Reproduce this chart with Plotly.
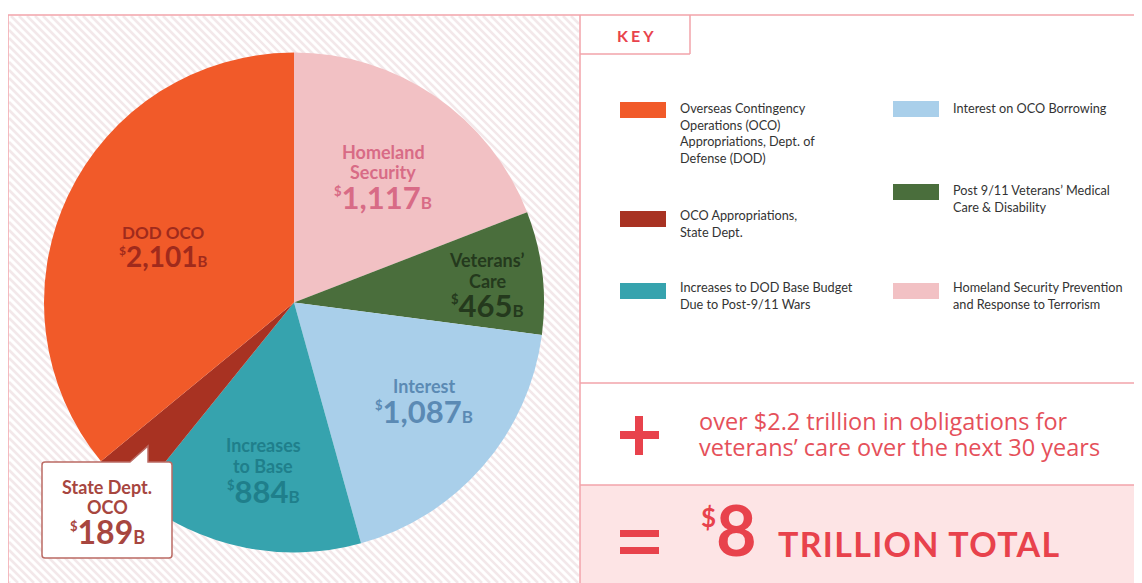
import plotly.graph_objects as go

# figure sits at an 8px page offset inside the 1142x583 window
OFF = 8
W, H = 1142 - OFF, 583 - OFF

# ---------------- data ----------------
categories = ["Homeland Security", "Veterans' Care", "Interest", "Increases to Base",
              "State Dept. OCO", "DOD OCO"]
values = [1117, 465, 1087, 884, 189, 2101]
slice_colors = ["#f2c1c4", "#4a6e3c", "#a9cfea", "#36a3ae", "#a83222", "#f15a29"]

label_names = [["Homeland", "Security"], ["Veterans’", "Care"], ["Interest"],
               ["Increases", "to Base"], ["State Dept.", "OCO"], ["DOD OCO"]]
label_colors = ["#d86b86", "#24391d", "#5b8ab4", "#1f7f8b", "#a7463f", "#a02a1c"]

key_left_idx = [5, 4, 3]
key_right_idx = [2, 1, 0]
key_texts = {
    5: ["Overseas Contingency", "Operations (OCO)", "Appropriations, Dept. of", "Defense (DOD)"],
    4: ["OCO Appropriations,", "State Dept."],
    3: ["Increases to DOD Base Budget", "Due to Post-9/11 Wars"],
    2: ["Interest on OCO Borrowing"],
    1: ["Post 9/11 Veterans’ Medical", "Care & Disability"],
    0: ["Homeland Security Prevention", "and Response to Terrorism"],
}
extra_lines = ["over $2.2 trillion in obligations for", "veterans’ care over the next 30 years"]
total_value = "8"
total_word = "TRILLION TOTAL"

# ---------------- helpers (window pixel -> paper) ----------------
def px(x):
    return (x - OFF) / W

def py(y):
    return 1 - (y - OFF) / H

RED = "#e8424c"
BORDER = "#f2a3aa"
FONT = "Lato"

# pie geometry (window pixels)
CX, CY, R = 294, 302.5, 250

fig = go.Figure()
fig.add_trace(go.Pie(
    labels=categories, values=values, sort=False, direction="clockwise", rotation=0,
    marker=dict(colors=slice_colors, line=dict(width=0)),
    textinfo="none", hoverinfo="label+value", showlegend=False,
    domain=dict(x=[px(CX - R), px(CX + R)], y=[py(CY + R), py(CY - R)]),
))

shapes = []

# diagonal stripes of the left panel
x0, x1, y0, y1 = 9, 579, 16, 583
step = 8
segs = []
c = y0 - x1
while c < y1 - x0:
    xa = max(x0, y0 - c)
    xb = min(x1, y1 - c)
    if xb > xa:
        segs.append(f"M{px(xa):.5f},{py(xa + c):.5f}L{px(xb):.5f},{py(xb + c):.5f}")
    c += step
shapes.append(dict(type="path", path="".join(segs), xref="paper", yref="paper",
                   line=dict(color="#f3e8ea", width=2.6), layer="below"))

# bottom pink band
shapes.append(dict(type="rect", xref="paper", yref="paper", x0=px(580), x1=px(1142),
                   y0=py(583), y1=py(485), fillcolor="#fde4e5", line=dict(width=0), layer="below"))

def hline(y, xa, xb, w=1.5):
    shapes.append(dict(type="line", xref="paper", yref="paper", x0=px(xa), x1=px(xb),
                       y0=py(y), y1=py(y), line=dict(color=BORDER, width=w), layer="below"))

def vline(x, ya, yb, w=1.5):
    shapes.append(dict(type="line", xref="paper", yref="paper", x0=px(x), x1=px(x),
                       y0=py(ya), y1=py(yb), line=dict(color=BORDER, width=w), layer="below"))

hline(15, 8, 1142)
vline(8, 15, 583)
vline(580, 15, 583)
hline(383, 580, 1142)
hline(485, 580, 1142)
# KEY box
vline(690, 15, 54)
hline(54, 580, 690)

# key swatches
def swatch(xl, yc, color):
    shapes.append(dict(type="rect", xref="paper", yref="paper", x0=px(xl), x1=px(xl + 46),
                       y0=py(yc + 8), y1=py(yc - 8), fillcolor=color, line=dict(width=0)))

left_swatch_y = [110, 219, 291]
right_swatch_y = [109, 192, 291]
for i, yc in zip(key_left_idx, left_swatch_y):
    swatch(620, yc, slice_colors[i])
for i, yc in zip(key_right_idx, right_swatch_y):
    swatch(893, yc, slice_colors[i])

# plus and equals symbols
def bar(xa, xb, ya, yb):
    shapes.append(dict(type="rect", xref="paper", yref="paper", x0=px(xa), x1=px(xb),
                       y0=py(yb), y1=py(ya), fillcolor=RED, line=dict(width=0)))

bar(620, 659, 431, 439)
bar(635, 643, 416, 455)
bar(620, 659, 530, 537)
bar(620, 659, 547, 554)

# State Dept callout box
pts = [(45, 462), (130, 462), (148, 446), (148, 462), (169, 462), ("Q", 172, 462, 172, 465),
       (172, 555), ("Q", 172, 558, 169, 558), (45, 558), ("Q", 42, 558, 42, 555),
       (42, 465), ("Q", 42, 462, 45, 462)]
path = ""
for k, p in enumerate(pts):
    if p[0] == "Q":
        path += f"Q{px(p[1]):.5f},{py(p[2]):.5f} {px(p[3]):.5f},{py(p[4]):.5f}"
    else:
        path += ("M" if k == 0 else "L") + f"{px(p[0]):.5f},{py(p[1]):.5f}"
path += "Z"
shapes.append(dict(type="path", path=path, xref="paper", yref="paper",
                   fillcolor="white", line=dict(color="#bb6a63", width=1.5)))

# ---------------- annotations ----------------
anns = []

def ann(x, y, text, size, color, weight=700, xanchor="center", yanchor="middle",
        family=FONT, align="center"):
    anns.append(dict(x=px(x), y=py(y), xref="paper", yref="paper", text=text, showarrow=False,
                     xanchor=xanchor, yanchor=yanchor, align=align,
                     font=dict(family=family, size=size, color=color, weight=weight)))

def money(v, size):
    return (f"<sup><span style='font-size:{round(size*0.42)}px'>$</span></sup>{v:,}"
            f"<span style='font-size:{round(size*0.55)}px'>B</span>")

# pie labels: (x, first-line y, line gap, value y, name size, value size)
label_pos = [
    (383, 152, 20, 197, 18, 31),
    (487, 260, 21, 305, 18, 31),
    (424, 386, 0, 411, 18, 31),
    (263, 445, 21, 491, 18, 31),
    (107, 487, 20, 531, 18, 32),
    (163, 233, 0, 256, 17, 28),
]
for i, (lx, ly, gap, vy, ns, vs) in enumerate(label_pos):
    for j, line in enumerate(label_names[i]):
        ann(lx, ly + j * gap, line, ns, label_colors[i])
    ann(lx, vy, money(values[i], vs), vs, label_colors[i])

# KEY title
ann(637, 35, "<span style='letter-spacing:3px'>KEY</span>", 16, RED)

# key texts (one left-aligned block each)
def key_block(xl, y_first, lines):
    yc = y_first + (len(lines) - 1) * 16.5 / 2
    ann(xl, yc, "<br>".join(lines), 12.7, "#333333", weight=400, xanchor="left", align="left")

left_text_y = [108, 215, 287]
right_text_y = [108, 190, 287]
for i, yf in zip(key_left_idx, left_text_y):
    key_block(678, yf, key_texts[i])
for i, yf in zip(key_right_idx, right_text_y):
    key_block(951, yf, key_texts[i])

# plus text
ann(697, 434, "<br>".join(f"<span style='font-size:23.5px'>{t}</span>" for t in extra_lines),
    20, "#e5505a", weight=400, xanchor="left", family="Open Sans", align="left")

# total
ann(699, 573, f"<sup><span style='font-size:26px'>$</span></sup>{total_value}", 70, RED,
    xanchor="left", yanchor="bottom")
ann(776, 566, f"<span style='letter-spacing:1.3px'>{total_word}</span>", 34, RED,
    xanchor="left", yanchor="bottom")

fig.update_layout(
    width=W, height=H, autosize=False,
    margin=dict(l=0, r=0, t=0, b=0),
    paper_bgcolor="white", plot_bgcolor="white",
    shapes=shapes, annotations=anns,
    font=dict(family=FONT),
)

fig.write_html("out.html")
